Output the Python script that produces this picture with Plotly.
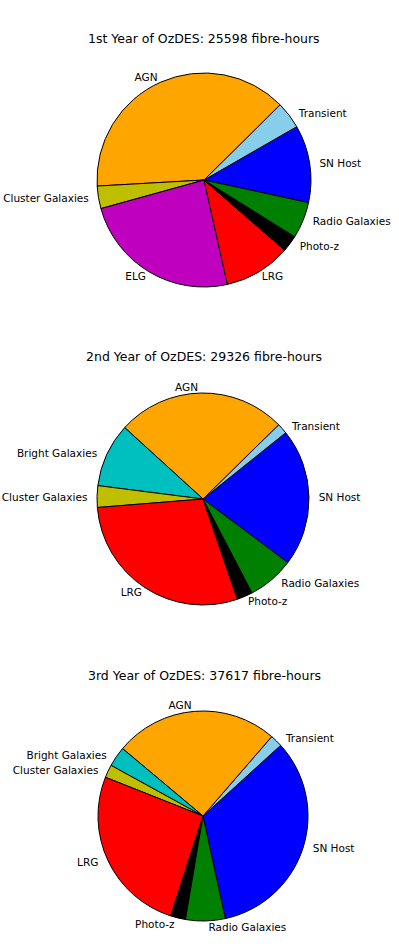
import plotly.graph_objects as go

# Year 1 (percent shares of fibre-hours)
labels_y1 = ["SN Host", "Transient", "AGN", "Cluster Galaxies", "ELG", "LRG", "Photo-z", "Radio Galaxies"]
values_y1 = [11.7, 4.1, 38.5, 3.4, 24.2, 10.1, 2.5, 5.5]
colors_y1 = ["#0000ff", "#87ceeb", "#ffa500", "#bfbf00", "#bf00bf", "#ff0000", "#000000", "#008000"]

# Year 2
labels_y2 = ["SN Host", "Transient", "AGN", "Bright Galaxies", "Cluster Galaxies", "LRG", "Photo-z", "Radio Galaxies"]
values_y2 = [21.0, 1.6, 25.9, 9.75, 3.3, 29.0, 2.4, 7.1]
colors_y2 = ["#0000ff", "#87ceeb", "#ffa500", "#00bfbf", "#bfbf00", "#ff0000", "#000000", "#008000"]

# Year 3
labels_y3 = ["SN Host", "Transient", "AGN", "Bright Galaxies", "Cluster Galaxies", "LRG", "Photo-z", "Radio Galaxies"]
values_y3 = [33.4, 1.9, 25.3, 3.1, 2.0, 26.1, 2.3, 6.1]
colors_y3 = ["#0000ff", "#87ceeb", "#ffa500", "#00bfbf", "#bfbf00", "#ff0000", "#000000", "#008000"]

titles = ["1st Year of OzDES: 25598 fibre-hours",
          "2nd Year of OzDES: 29326 fibre-hours",
          "3rd Year of OzDES: 37617 fibre-hours"]

# label styling: extra gap on the side facing the pie (R = right-hand label, L = left-hand, C = none)
gap_y1 = ["R", "R", "C", "L", "C", "C", "R", "R"]
gap_y2 = ["R", "R", "C", "L", "L", "C", "C", "R"]
gap_y3 = ["R", "R", "C", "L", "L", "L", "C", "C"]

W, H = 399, 950
FONT = "DejaVu Sans"
PAD = "\u00a0\u00a0"


def templates(sides):
    out = []
    for s in sides:
        if s == "R":
            out.append(PAD + "%{label}")
        elif s == "L":
            out.append("%{label}" + PAD)
        else:
            out.append("%{label}")
    return out


pies = [
    (labels_y1, values_y1, colors_y1, gap_y1, 60.1, (204, 180, 107), 38),
    (labels_y2, values_y2, colors_y2, gap_y2, 51.3, (203, 499, 106), 356),
    (labels_y3, values_y3, colors_y3, gap_y3, 47.7, (203, 816, 105), 675),
]

fig = go.Figure()
annotations = []
for i, (lab, val, col, gaps, rot, (cx, cy, r), ty) in enumerate(pies):
    fig.add_trace(go.Pie(
        labels=lab, values=val, sort=False, direction="counterclockwise",
        rotation=rot,
        marker=dict(colors=col, line=dict(color="black", width=1)),
        textinfo="label", textposition="outside",
        texttemplate=templates(gaps),
        textfont=dict(family=FONT, size=10.5, color="black"),
        domain=dict(x=[(cx - r) / W, (cx + r) / W],
                    y=[(H - cy - r) / H, (H - cy + r) / H]),
        showlegend=False, hoverinfo="label+percent",
    ))
    annotations.append(dict(text=titles[i], x=0.512, y=1 - ty / H, xref="paper", yref="paper",
                            xanchor="center", yanchor="middle", showarrow=False,
                            font=dict(family=FONT, size=12.5, color="black")))

fig.update_layout(
    width=W, height=H,
    margin=dict(l=0, r=0, t=0, b=0, autoexpand=False),
    paper_bgcolor="white", plot_bgcolor="white",
    annotations=annotations,
    font=dict(family=FONT),
)

fig.write_html("out.html", config={"displayModeBar": False},
               post_script="document.body.style.margin='0';")
